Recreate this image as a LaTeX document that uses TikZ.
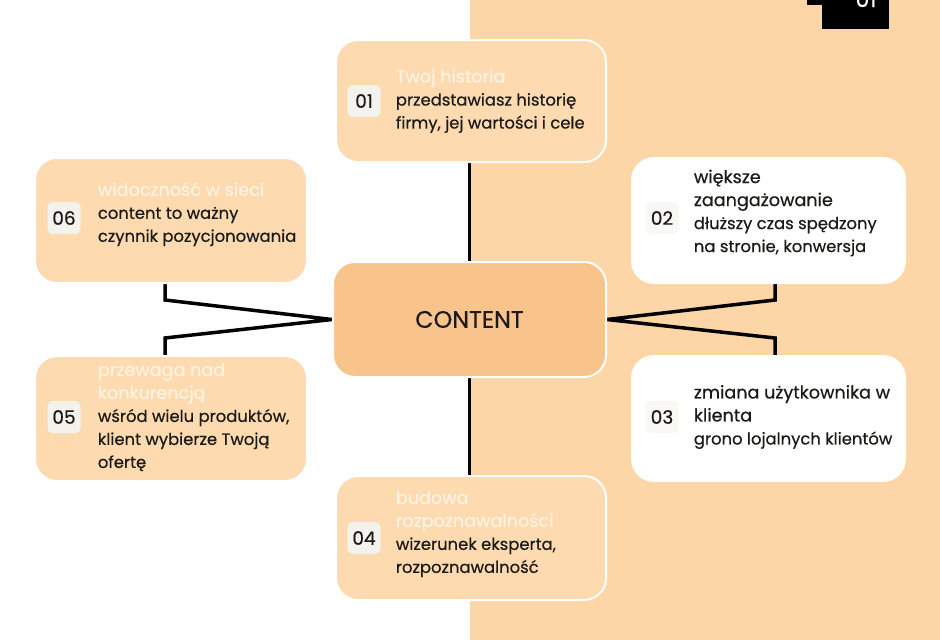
\documentclass[tikz,border=0pt]{standalone}
\usepackage{fontspec}
\setmainfont{Poppins}
\newfontfamily\medfont{Poppins}[FakeBold=0.5]
\usetikzlibrary{positioning}
\usetikzlibrary{backgrounds}
\definecolor{peachbg}{HTML}{FDD6A8}
\definecolor{peachbox}{HTML}{FDDAB0}
\definecolor{corefill}{HTML}{F9C48C}
\definecolor{badgegray}{HTML}{F3F2EC}
\definecolor{faint}{HTML}{FFF3E4}
\definecolor{ink}{HTML}{1C1A18}
\newcommand{\cardhead}[1]{{\fontsize{17.6}{23}\selectfont #1}}
\newcommand{\palehead}[1]{\textcolor{faint}{\cardhead{#1}}}

\begin{document}
\begin{tikzpicture}[x=1pt, y=-1pt,
    card/.style={draw=white, line width=2pt, rounded corners=22pt, minimum width=272pt, minimum height=124pt, inner sep=0pt},
    warm/.style={card, fill=peachbox},
    plain/.style={card, fill=white},
    badge/.style={fill=badgegray, rounded corners=5pt, minimum width=33pt, minimum height=32pt, inner sep=0pt, text=ink, font=\medfont\fontsize{18.5}{20}\selectfont},
    body/.style={anchor=west, align=left, inner sep=0pt, text=ink, font=\medfont\fontsize{16.4}{23}\selectfont},
    link/.style={line width=3.5pt, black}]
    \useasboundingbox (0,0) rectangle (940,640);

    % cards
    \node[card, fill=corefill, minimum width=273pt, minimum height=115pt, font=\medfont\fontsize{23.8}{26}\selectfont, text=ink] (core) at (469.5,319.5) {CONTENT};
    \node[warm, minimum width=270pt, minimum height=122pt] (n01) at (471,101) {};
    \node[plain, minimum width=273pt, minimum height=125pt] (n02) at (768.5,220.5) {};
    \node[plain, minimum width=273pt, minimum height=125pt] (n03) at (768.5,418.5) {};
    \node[warm, minimum width=270pt] (n04) at (471,538) {};
    \node[warm, minimum height=125pt] (n05) at (171,418.5) {};
    \node[warm, minimum height=125pt] (n06) at (171,220.5) {};

    % numbers and texts
    \node[badge] (b01) at (364,101) {01};
    \node[body, right=15pt of b01] (t01) {\palehead{Twoj historia}\\przedstawiasz historię\\firmy, jej wartości i cele};
    \node[badge, fill=badgegray!50] (b02) at (662,218) {02};
    \node[body, right=15pt of b02, yshift=5pt] (t02) {\cardhead{większe}\\\cardhead{zaangażowanie}\\dłuższy czas spędzony\\na stronie, konwersja};
    \node[badge, fill=badgegray!50] (b03) at (662,417) {03};
    \node[body, right=15pt of b03] (t03) {\cardhead{zmiana użytkownika w}\\\cardhead{klienta}\\grono lojalnych klientów};
    \node[badge] (b04) at (364,538) {04};
    \node[body, right=15pt of b04, yshift=4pt] (t04) {\palehead{budowa}\\\palehead{rozpoznawalności}\\wizerunek eksperta,\\rozpoznawalność};
    \node[badge] (b05) at (64,417) {05};
    \node[body, right=17pt of b05] (t05) {\palehead{przewaga nad}\\\palehead{konkurencją}\\wśród wielu produktów,\\klient wybierze Twoją\\ofertę};
    \node[badge] (b06) at (64,218) {06};
    \node[body, right=17pt of b06, yshift=4pt] (t06) {\palehead{widoczność w sieci}\\content to ważny\\czynnik pozycjonowania};

    % tab in the corner
    \fill[black] (807,0) rectangle (889,5);
    \fill[black] (822,0) rectangle (889,29);
    \begin{scope}
      \clip (822,0) rectangle (889,29);
      \node[anchor=base, text=white, inner sep=0pt, font=\medfont\fontsize{22}{22}\selectfont] (tag) at (866,7) {01};
    \end{scope}

    \begin{pgfonlayer}{background}
      \fill[white] (0,0) rectangle (470,640);
      \fill[peachbg] (470,0) rectangle (940,640);
      \coordinate (e6) at (165,300);
      \coordinate (e5) at (165,338);
      \coordinate (e2) at (775,300);
      \coordinate (e3) at (775,338);
      \draw[link] (n01.south -| core) -- (core.north);
      \draw[link] (core.south) -- (n04.north -| core);
      \draw[link] (n06.south -| e6) -- (e6) -- (core.west) -- (e5) -- (n05.north -| e5);
      \draw[link] (n02.south -| e2) -- (e2) -- (core.east) -- (e3) -- (n03.north -| e3);
    \end{pgfonlayer}
\end{tikzpicture}
\end{document}
